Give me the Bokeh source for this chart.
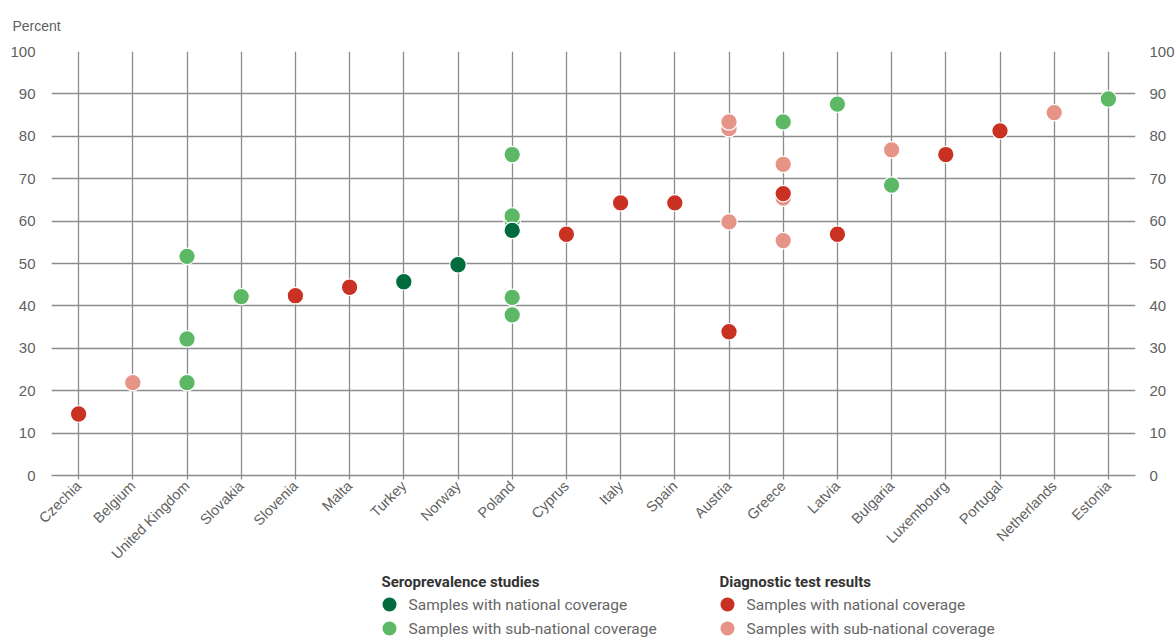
import math
from bokeh.plotting import figure
from bokeh.layouts import column
from bokeh.models import ColumnDataSource, Range1d, LinearAxis, FixedTicker
from bokeh.core.properties import value
from bokeh.embed import file_html
from bokeh.resources import INLINE

countries = ["Czechia", "Belgium", "United Kingdom", "Slovakia", "Slovenia", "Malta",
             "Turkey", "Norway", "Poland", "Cyprus", "Italy", "Spain", "Austria",
             "Greece", "Latvia", "Bulgaria", "Luxembourg", "Portugal", "Netherlands",
             "Estonia"]

sero_nat_country = ["Turkey", "Norway", "Poland"]
sero_nat_value = [45.7, 49.7, 57.8]

sero_sub_country = ["United Kingdom", "United Kingdom", "United Kingdom", "Slovakia",
                    "Poland", "Poland", "Poland", "Poland", "Poland",
                    "Greece", "Latvia", "Bulgaria", "Estonia"]
sero_sub_value = [51.7, 32.2, 21.9, 42.2,
                  75.7, 60.0, 61.2, 42.0, 37.9,
                  83.4, 87.6, 68.5, 88.8]

diag_sub_country = ["Belgium", "Austria", "Austria", "Austria", "Greece", "Greece",
                    "Greece", "Bulgaria", "Netherlands"]
diag_sub_value = [21.9, 81.8, 83.4, 59.8, 73.4, 65.4, 55.4, 76.8, 85.6]

diag_nat_country = ["Czechia", "Slovenia", "Malta", "Cyprus", "Italy", "Spain",
                    "Austria", "Greece", "Latvia", "Luxembourg", "Portugal"]
diag_nat_value = [14.5, 42.4, 44.4, 56.9, 64.3, 64.3, 33.9, 66.5, 56.9, 75.7, 81.3]

y_ticks = [0, 10, 20, 30, 40, 50, 60, 70, 80, 90, 100]

legend_groups = ["Seroprevalence studies", "Diagnostic test results"]
legend_labels = ["Samples with national coverage", "Samples with sub-national coverage"]

C_DARK_GREEN = "#006B3C"
C_GREEN = "#5DB866"
C_RED = "#C93223"
C_PINK = "#E69388"
GRID = "#8c8c8c"
TXT = "#5f5f5f"
FONT = "Liberation Sans"
LFONT = "Roboto"

p = figure(x_range=countries, y_range=Range1d(0, 100),
           frame_width=1084, frame_height=424,
           output_backend="svg", toolbar_location=None,
           min_border_left=51, min_border_right=41, min_border_top=51,
           min_border_bottom=85)
p.outline_line_color = None
p.background_fill_color = "white"
p.border_fill_color = "white"

p.title.text = "Percent"
p.title.text_font = FONT
p.title.text_font_size = "14px"
p.title.text_font_style = "normal"
p.title.text_color = TXT
p.title.align = "left"
p.title.vertical_align = "top"
p.title.offset = -39
p.title.standoff = 32

p.xgrid.grid_line_color = GRID
p.xgrid.grid_line_width = 1.3
p.ygrid.grid_line_color = GRID
p.ygrid.grid_line_width = 1.3
p.ygrid.ticker = FixedTicker(ticks=y_ticks)

xa = p.xaxis[0]
xa.axis_line_color = GRID
xa.axis_line_width = 1.3
xa.major_tick_line_color = GRID
xa.major_tick_line_width = 1.3
xa.major_tick_out = 4
xa.major_tick_in = 0
xa.minor_tick_line_color = None
xa.major_label_orientation = math.pi / 4
xa.major_label_text_font = FONT
xa.major_label_text_font_size = "14.5px"
xa.major_label_text_color = TXT
xa.major_label_standoff = 4

ya = p.yaxis[0]
ya.ticker = FixedTicker(ticks=y_ticks)
ya.axis_line_color = None
ya.major_tick_line_color = None
ya.minor_tick_line_color = None
ya.major_label_text_font = FONT
ya.major_label_text_font_size = "15px"
ya.major_label_text_color = TXT
ya.major_label_standoff = 10

ra = LinearAxis(ticker=FixedTicker(ticks=y_ticks))
ra.axis_line_color = None
ra.major_tick_line_color = None
ra.minor_tick_line_color = None
ra.major_label_text_font = FONT
ra.major_label_text_font_size = "15px"
ra.major_label_text_color = TXT
ra.major_label_standoff = 8
p.add_layout(ra, "right")


def add(fig, countries_, values_, color):
    src = ColumnDataSource(dict(x=countries_, y=values_))
    return fig.scatter("x", "y", source=src, size=16.5, fill_color=color,
                       line_color="white", line_width=1.2)


add(p, sero_sub_country, sero_sub_value, C_GREEN)
add(p, sero_nat_country, sero_nat_value, C_DARK_GREEN)
add(p, diag_sub_country, diag_sub_value, C_PINK)
add(p, diag_nat_country, diag_nat_value, C_RED)

# ---- legend strip below the chart (screen-pixel coordinate space) ----
STRIP_TOP, STRIP_BOTTOM = 571, 639
lf = figure(frame_width=1084, frame_height=STRIP_BOTTOM - STRIP_TOP,
            x_range=Range1d(51, 1135), y_range=Range1d(STRIP_BOTTOM, STRIP_TOP),
            output_backend="svg", toolbar_location=None,
            min_border_left=51, min_border_right=41, min_border_top=0,
            min_border_bottom=0)
lf.axis.visible = False
lf.grid.visible = False
lf.outline_line_color = None
lf.border_fill_color = "white"
lf.background_fill_color = "white"

group_x = [381, 719]
header_y = 582
row_y = [605, 629]
group_colors = [[C_DARK_GREEN, C_GREEN], [C_RED, C_PINK]]

lf.text(x=group_x, y=[header_y] * 2, text=legend_groups,
        text_font=value(LFONT), text_font_style="bold", text_font_size="15px",
        text_color="#333333", text_baseline="middle", text_align="left")

mx, my, mc, tx, ty, tt = [], [], [], [], [], []
for gx, cols in zip(group_x, group_colors):
    for ry, col, lab in zip(row_y, cols, legend_labels):
        mx.append(gx + 8)
        my.append(ry)
        mc.append(col)
        tx.append(gx + 27)
        ty.append(ry)
        tt.append(lab)

lf.scatter(x=mx, y=my, size=14, fill_color=mc, line_color=None)
lf.text(x=tx, y=ty, text=tt, text_font=value(LFONT), text_font_size="15.5px",
        text_color="#666666", text_baseline="middle", text_align="left")

layout = column(p, lf, spacing=0)
open("out.html", "w").write(file_html(layout, INLINE))
